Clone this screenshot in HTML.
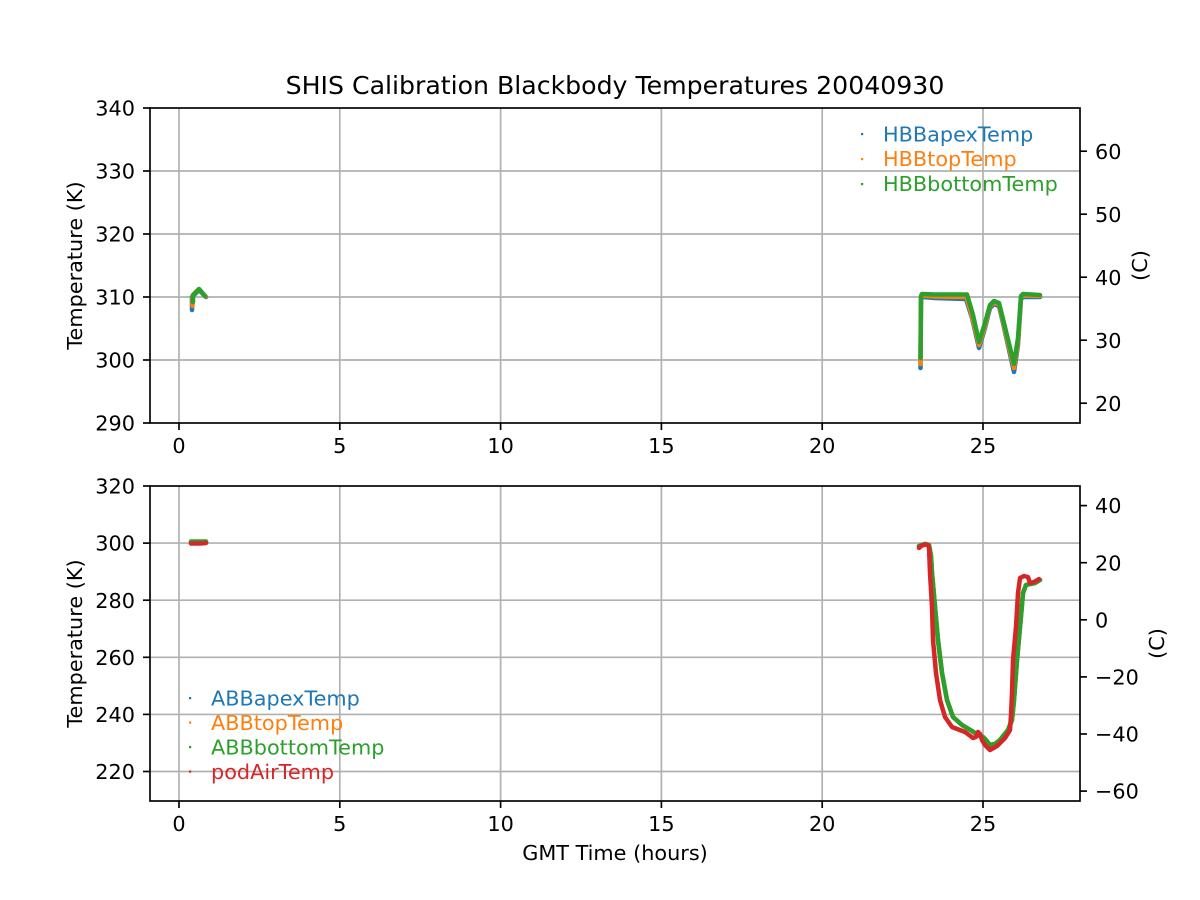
<!DOCTYPE html>
<html>
<head>
<meta charset="utf-8">
<style>
  html,body{margin:0;padding:0;background:#fff;}
  svg{display:block;}
  text{font-family:"DejaVu Sans","Liberation Sans",sans-serif;fill:#000;}
</style>
</head>
<body>
<svg width="1200" height="900" viewBox="0 0 1200 900" xmlns="http://www.w3.org/2000/svg">
  <rect width="1200" height="900" fill="#fff"/>

  <!-- Title -->
  <text x="615" y="94" font-size="25.2" text-anchor="middle">SHIS Calibration Blackbody Temperatures 20040930</text>

  <!-- ================= TOP AXES ================= -->
  <g stroke="#b0b0b0" stroke-width="1.67" fill="none">
    <line x1="179" y1="108" x2="179" y2="423"/>
    <line x1="339.8" y1="108" x2="339.8" y2="423"/>
    <line x1="500.6" y1="108" x2="500.6" y2="423"/>
    <line x1="661.4" y1="108" x2="661.4" y2="423"/>
    <line x1="822.2" y1="108" x2="822.2" y2="423"/>
    <line x1="983" y1="108" x2="983" y2="423"/>
    <line x1="150" y1="171" x2="1080" y2="171"/>
    <line x1="150" y1="234" x2="1080" y2="234"/>
    <line x1="150" y1="297" x2="1080" y2="297"/>
    <line x1="150" y1="360" x2="1080" y2="360"/>
  </g>

  <!-- top data -->
  <g fill="none" stroke-linejoin="round" stroke-linecap="round" stroke-width="4.5">
    <polyline stroke="#1f77b4" points="192,310 192,297 195,294 199,290 206,297"/>
    <polyline stroke="#1f77b4" points="920.5,368 921,299 923,297 935,298 966,299 972,318 979,348 985,328 990,308 994,304 999,306 1003,323 1014,372 1018,345 1021,299 1023,297 1040,297"/>
    <polyline stroke="#ff7f0e" points="192.5,306 192.5,296 195,293 199,289.5 205.5,296.5"/>
    <polyline stroke="#ff7f0e" points="920.5,364 921,297.5 923,295.5 935,296.5 966.5,297 972,316 979,345 985,326 990,306 994,302.5 999,304.5 1003,321.5 1014,368 1018,342 1021,297 1023,295.5 1040,296"/>
    <polyline stroke="#2ca02c" points="193,302 193,295 196,292 199,289 205,296"/>
    <polyline stroke="#2ca02c" points="920.5,358 921,296 922,294 935,294.5 967,294.5 973,315 979,342 985,323 990,305 994,301 999,303 1003,319 1014,364 1018,338 1021,296 1023,294 1040,295"/>
  </g>

  <rect x="150" y="108" width="930" height="315" fill="none" stroke="#000" stroke-width="1.67"/>

  <g stroke="#000" stroke-width="1.67">
    <line x1="179" y1="423" x2="179" y2="430"/>
    <line x1="339.8" y1="423" x2="339.8" y2="430"/>
    <line x1="500.6" y1="423" x2="500.6" y2="430"/>
    <line x1="661.4" y1="423" x2="661.4" y2="430"/>
    <line x1="822.2" y1="423" x2="822.2" y2="430"/>
    <line x1="983" y1="423" x2="983" y2="430"/>
    <line x1="143" y1="108" x2="150" y2="108"/>
    <line x1="143" y1="171" x2="150" y2="171"/>
    <line x1="143" y1="234" x2="150" y2="234"/>
    <line x1="143" y1="297" x2="150" y2="297"/>
    <line x1="143" y1="360" x2="150" y2="360"/>
    <line x1="143" y1="423" x2="150" y2="423"/>
    <line x1="1080" y1="151.2" x2="1087" y2="151.2"/>
    <line x1="1080" y1="214.2" x2="1087" y2="214.2"/>
    <line x1="1080" y1="277.2" x2="1087" y2="277.2"/>
    <line x1="1080" y1="340.2" x2="1087" y2="340.2"/>
    <line x1="1080" y1="403.2" x2="1087" y2="403.2"/>
  </g>
  <g font-size="20.8">
    <g text-anchor="middle">
      <text x="179" y="453">0</text>
      <text x="339.8" y="453">5</text>
      <text x="500.6" y="453">10</text>
      <text x="661.4" y="453">15</text>
      <text x="822.2" y="453">20</text>
      <text x="983" y="453">25</text>
    </g>
    <g text-anchor="end">
      <text x="135" y="115.6">340</text>
      <text x="135" y="178.6">330</text>
      <text x="135" y="241.6">320</text>
      <text x="135" y="304.6">310</text>
      <text x="135" y="367.6">300</text>
      <text x="135" y="430.6">290</text>
    </g>
    <g text-anchor="start">
      <text x="1095" y="158.8">60</text>
      <text x="1095" y="221.8">50</text>
      <text x="1095" y="284.8">40</text>
      <text x="1095" y="347.8">30</text>
      <text x="1095" y="410.8">20</text>
    </g>
  </g>
  <text font-size="20.8" text-anchor="middle" transform="translate(82,265.5) rotate(-90)">Temperature (K)</text>
  <text font-size="20.8" text-anchor="middle" transform="translate(1147,265.5) rotate(-90)">(C)</text>

  <!-- top legend -->
  <g>
    <rect x="861" y="133" width="2.2" height="2.2" fill="#1f77b4"/>
    <rect x="861" y="158" width="2.2" height="2.2" fill="#ff7f0e"/>
    <rect x="861" y="183" width="2.2" height="2.2" fill="#2ca02c"/>
    <text x="883" y="141.5" font-size="20.8" style="fill:#1f77b4">HBBapexTemp</text>
    <text x="883" y="166.2" font-size="20.8" style="fill:#ff7f0e">HBBtopTemp</text>
    <text x="883" y="190.9" font-size="20.8" style="fill:#2ca02c">HBBbottomTemp</text>
  </g>

  <!-- ================= BOTTOM AXES ================= -->
  <g stroke="#b0b0b0" stroke-width="1.67" fill="none">
    <line x1="179" y1="486" x2="179" y2="801"/>
    <line x1="339.8" y1="486" x2="339.8" y2="801"/>
    <line x1="500.6" y1="486" x2="500.6" y2="801"/>
    <line x1="661.4" y1="486" x2="661.4" y2="801"/>
    <line x1="822.2" y1="486" x2="822.2" y2="801"/>
    <line x1="983" y1="486" x2="983" y2="801"/>
    <line x1="150" y1="543.1" x2="1080" y2="543.1"/>
    <line x1="150" y1="600.2" x2="1080" y2="600.2"/>
    <line x1="150" y1="657.3" x2="1080" y2="657.3"/>
    <line x1="150" y1="714.4" x2="1080" y2="714.4"/>
    <line x1="150" y1="771.5" x2="1080" y2="771.5"/>
  </g>

  <!-- bottom data -->
  <g fill="none" stroke-linejoin="round" stroke-linecap="round" stroke-width="4.5">
    <polyline stroke="#1f77b4" points="191,542 206,542"/>
    <polyline stroke="#ff7f0e" points="191,542 206,542"/>
    <polyline stroke="#2ca02c" points="191,541.5 206,541.5"/>
    <polyline stroke="#1f77b4" points="919,546 925,544 929,545 931,556 932,573 935,607 938,640 942,673 947,700 953,717 962,725 972,731 978,735 983,737 986,740 990,745 995,744 1000,740 1008,730 1012,720 1014,700 1017,660 1020,627 1023,593 1026,585 1030,584 1035,583 1040,580"/>
    <polyline stroke="#ff7f0e" points="919,546 925,544 929,545 931,556 932,573 935,607 938,640 942,673 947,700 953,717 962,725 972,731 978,735 983,737 986,740 990,745 995,744 1000,740 1008,730 1012,720 1014,700 1017,660 1020,627 1023,593 1026,585 1030,584 1035,583 1040,580"/>
    <polyline stroke="#2ca02c" points="919,546 925,544 929,545 931,556 932,573 935,607 938,640 942,673 947,700 953,717 962,725 972,731 978,735 983,737 986,740 990,745 995,744 1000,740 1008,730 1012,720 1014,700 1017,660 1020,627 1023,593 1026,585 1030,584 1035,583 1040,580"/>
    <polyline stroke="#d62728" points="191,543.5 200,543.5 206,543"/>
    <polyline stroke="#d62728" points="919,548 921,546 925,544.5 928,545 929,548 930,573 932,607 933,640 936,673 940,700 945,717 952,727 965,732 973,738 976,737 978,732 980,734 982,740 985,745 990,750 997,746 1005,738 1010,730 1011,715 1012,693 1013,660 1016,627 1018,593 1020,578 1024,576 1028,577 1030,583 1034,582 1039,579"/>
  </g>

  <rect x="150" y="486" width="930" height="315" fill="none" stroke="#000" stroke-width="1.67"/>

  <g stroke="#000" stroke-width="1.67">
    <line x1="179" y1="801" x2="179" y2="808"/>
    <line x1="339.8" y1="801" x2="339.8" y2="808"/>
    <line x1="500.6" y1="801" x2="500.6" y2="808"/>
    <line x1="661.4" y1="801" x2="661.4" y2="808"/>
    <line x1="822.2" y1="801" x2="822.2" y2="808"/>
    <line x1="983" y1="801" x2="983" y2="808"/>
    <line x1="143" y1="486" x2="150" y2="486"/>
    <line x1="143" y1="543.1" x2="150" y2="543.1"/>
    <line x1="143" y1="600.2" x2="150" y2="600.2"/>
    <line x1="143" y1="657.3" x2="150" y2="657.3"/>
    <line x1="143" y1="714.4" x2="150" y2="714.4"/>
    <line x1="143" y1="771.5" x2="150" y2="771.5"/>
    <line x1="1080" y1="505.6" x2="1087" y2="505.6"/>
    <line x1="1080" y1="562.7" x2="1087" y2="562.7"/>
    <line x1="1080" y1="619.8" x2="1087" y2="619.8"/>
    <line x1="1080" y1="676.9" x2="1087" y2="676.9"/>
    <line x1="1080" y1="734.0" x2="1087" y2="734.0"/>
    <line x1="1080" y1="791.1" x2="1087" y2="791.1"/>
  </g>
  <g font-size="20.8">
    <g text-anchor="middle">
      <text x="179" y="831">0</text>
      <text x="339.8" y="831">5</text>
      <text x="500.6" y="831">10</text>
      <text x="661.4" y="831">15</text>
      <text x="822.2" y="831">20</text>
      <text x="983" y="831">25</text>
    </g>
    <g text-anchor="end">
      <text x="135" y="493.6">320</text>
      <text x="135" y="550.7">300</text>
      <text x="135" y="607.8">280</text>
      <text x="135" y="664.9">260</text>
      <text x="135" y="722">240</text>
      <text x="135" y="779.1">220</text>
    </g>
    <g text-anchor="start">
      <text x="1095" y="513.2">40</text>
      <text x="1095" y="570.3">20</text>
      <text x="1095" y="627.4">0</text>
      <text x="1095" y="684.5">−20</text>
      <text x="1095" y="741.6">−40</text>
      <text x="1095" y="798.7">−60</text>
    </g>
  </g>
  <text font-size="20.8" text-anchor="middle" transform="translate(82,643.5) rotate(-90)">Temperature (K)</text>
  <text font-size="20.8" text-anchor="middle" transform="translate(1164,643.5) rotate(-90)">(C)</text>
  <text x="615" y="860" font-size="20.8" text-anchor="middle">GMT Time (hours)</text>

  <!-- bottom legend -->
  <g>
    <rect x="189" y="697" width="2.2" height="2.2" fill="#1f77b4"/>
    <rect x="189" y="721.5" width="2.2" height="2.2" fill="#ff7f0e"/>
    <rect x="189" y="746" width="2.2" height="2.2" fill="#2ca02c"/>
    <rect x="189" y="770.5" width="2.2" height="2.2" fill="#d62728"/>
    <text x="211" y="705.5" font-size="20.8" style="fill:#1f77b4">ABBapexTemp</text>
    <text x="211" y="730" font-size="20.8" style="fill:#ff7f0e">ABBtopTemp</text>
    <text x="211" y="754.5" font-size="20.8" style="fill:#2ca02c">ABBbottomTemp</text>
    <text x="211" y="779" font-size="20.8" style="fill:#d62728">podAirTemp</text>
  </g>
</svg>
</body>
</html>
